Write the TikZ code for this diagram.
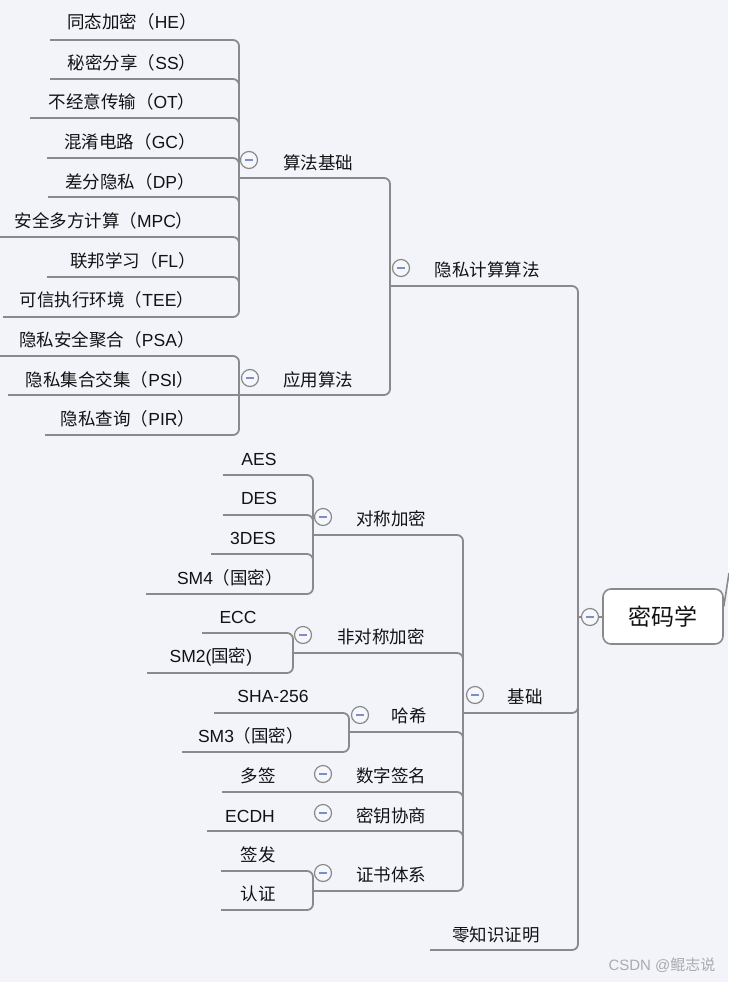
\documentclass[tikz,border=0pt]{standalone}
\usepackage{fontspec}
\setmainfont{Noto Sans CJK SC}
\newfontfamily\lt{Liberation Sans}
\definecolor{bg}{RGB}{243,244,249}
\definecolor{ln}{RGB}{138,138,140}
\definecolor{txt}{RGB}{18,18,20}
\definecolor{cfill}{RGB}{246,247,251}
\definecolor{mn}{RGB}{130,140,200}
\definecolor{wm}{RGB}{170,170,175}
\newcommand\lf[4]{\node[lbl] (#1) at (#2,#3) {#4};}
\newcommand\clp[3]{\node[clpc] (#1) at (#2,#3) {}; \draw[mnl] ({#2-4},#3) -- ({#2+4},#3);}
\begin{document}
\begin{tikzpicture}[x=1pt,y=-1pt,
  lbl/.style={font=\fontsize{17.5}{20}\selectfont, text=txt, inner sep=0pt},
  br/.style={draw=ln, line width=1.8pt, rounded corners=6pt},
  clpc/.style={circle, draw=ln, line width=1.2pt, fill=cfill, minimum size=17pt, inner sep=0pt},
  mnl/.style={draw=mn, line width=1.4pt},
  rootbox/.style={draw=ln, line width=1.6pt, fill=white, rounded corners=8pt, minimum width=120pt, minimum height=55pt, font=\fontsize{23}{26}\selectfont, text=txt}]
\fill[bg] (0,0) rectangle (728,982);
\useasboundingbox (0,0) rectangle (728,982);

% ---------- lines: 算法基础 ----------
\draw[br] (50,40) -- (239,40) -- (239,317) -- (3,317);
\draw[br] (50,79) -- (239,79) -- (239,85);
\draw[br] (30,118) -- (239,118) -- (239,124);
\draw[br] (47,158) -- (239,158) -- (239,164);
\draw[br] (48,197) -- (239,197) -- (239,203);
\draw[br] (0,237) -- (239,237) -- (239,243);
\draw[br] (47,277) -- (239,277) -- (239,283);
% ---------- lines: 应用算法 ----------
\draw[br] (0,356) -- (239,356) -- (239,435) -- (45,435);
\draw[br] (8,395) -- (239,395);
% ---------- 隐私计算算法 trunk ----------
\draw[br] (239,178) -- (390,178) -- (390,395) -- (239,395);
\draw[br] (390,286) -- (578,286) -- (578,950) -- (430,950);
% ---------- 基础 ----------
\draw[br] (463,713) -- (578,713) -- (578,707);
\draw[br] (313,535) -- (463,535) -- (463,891) -- (313,891);
\draw[br] (293,653) -- (463,653) -- (463,659);
\draw[br] (349,732) -- (463,732) -- (463,738);
\draw[br] (222,792) -- (463,792) -- (463,798);
\draw[br] (207,831) -- (463,831) -- (463,837);
% 对称加密
\draw[br] (223,475) -- (313,475) -- (313,594) -- (146,594);
\draw[br] (223,515) -- (313,515) -- (313,521);
\draw[br] (211,554) -- (313,554) -- (313,560);
% 非对称加密
\draw[br] (202,633) -- (293,633) -- (293,673) -- (147,673);
% 哈希
\draw[br] (214,713) -- (349,713) -- (349,752) -- (182,752);
% 证书体系
\draw[br] (221,871) -- (313,871) -- (313,910) -- (221,910);

% ---------- root ----------
\draw[br] (578,617) -- (603,617);
\node[rootbox] (root) at (663,616.5) {密码学};
\coordinate (offr) at (729,573);
\draw[draw=ln, line width=1.6pt] (root.east) ++(0,-10) -- (offr);

% ---------- texts ----------
\lf{he}{132}{22}{同态加密（{\lt HE}）}
\lf{ss}{132}{63}{秘密分享（{\lt SS}）}
\lf{ot}{122}{102}{不经意传输（{\lt OT}）}
\lf{gc}{130}{142}{混淆电路（{\lt GC}）}
\lf{dp}{130}{182}{差分隐私（{\lt DP}）}
\lf{mpc}{104}{221}{安全多方计算（{\lt MPC}）}
\lf{fl}{133}{261}{联邦学习（{\lt FL}）}
\lf{tee}{107}{300}{可信执行环境（{\lt TEE}）}
\lf{psa}{107}{340}{隐私安全聚合（{\lt PSA}）}
\lf{psi}{110}{380}{隐私集合交集（{\lt PSI}）}
\lf{pir}{128}{419}{隐私查询（{\lt PIR}）}
\lf{sfjc}{318}{163}{算法基础}
\lf{yysf}{318}{380}{应用算法}
\lf{yssf}{487}{270}{隐私计算算法}

\lf{aes}{259}{459}{\lt AES}
\lf{des}{259}{498}{\lt DES}
\lf{tdes}{253}{538}{\lt 3DES}
\lf{smf}{230}{578}{{\lt SM4}（国密）}
\lf{dcjm}{391}{519}{对称加密}
\lf{ecc}{238}{617}{\lt ECC}
\lf{smt}{211}{657}{{\lt SM2(}国密{\lt )}}
\lf{fdc}{381}{637}{非对称加密}
\lf{sha}{273}{696}{\lt SHA-256}
\lf{smth}{251}{736}{{\lt SM3}（国密）}
\lf{hx}{409}{716}{哈希}
\lf{dq}{258}{776}{多签}
\lf{szqm}{391}{776}{数字签名}
\lf{ecdh}{250}{816}{\lt ECDH}
\lf{myxs}{391}{816}{密钥协商}
\lf{qf}{258}{855}{签发}
\lf{rz}{258}{894}{认证}
\lf{zstx}{391}{875}{证书体系}
\lf{jc}{525}{697}{基础}
\lf{zk}{496}{935}{零知识证明}

% ---------- collapse circles ----------
\clp{c1}{249}{160}
\clp{c2}{250}{378}
\clp{c3}{401}{268}
\clp{c4}{323}{517}
\clp{c5}{303}{635}
\clp{c6}{360}{715}
\clp{c7}{323}{774}
\clp{c8}{323}{813}
\clp{c9}{323}{873}
\clp{c10}{475}{695}
\clp{c11}{590}{617}

\node[font=\fontsize{15}{17}\selectfont, text=wm, inner sep=0pt] (wmk) at (662,965) {{\lt CSDN @}鲲志说};
\end{tikzpicture}
\end{document}
